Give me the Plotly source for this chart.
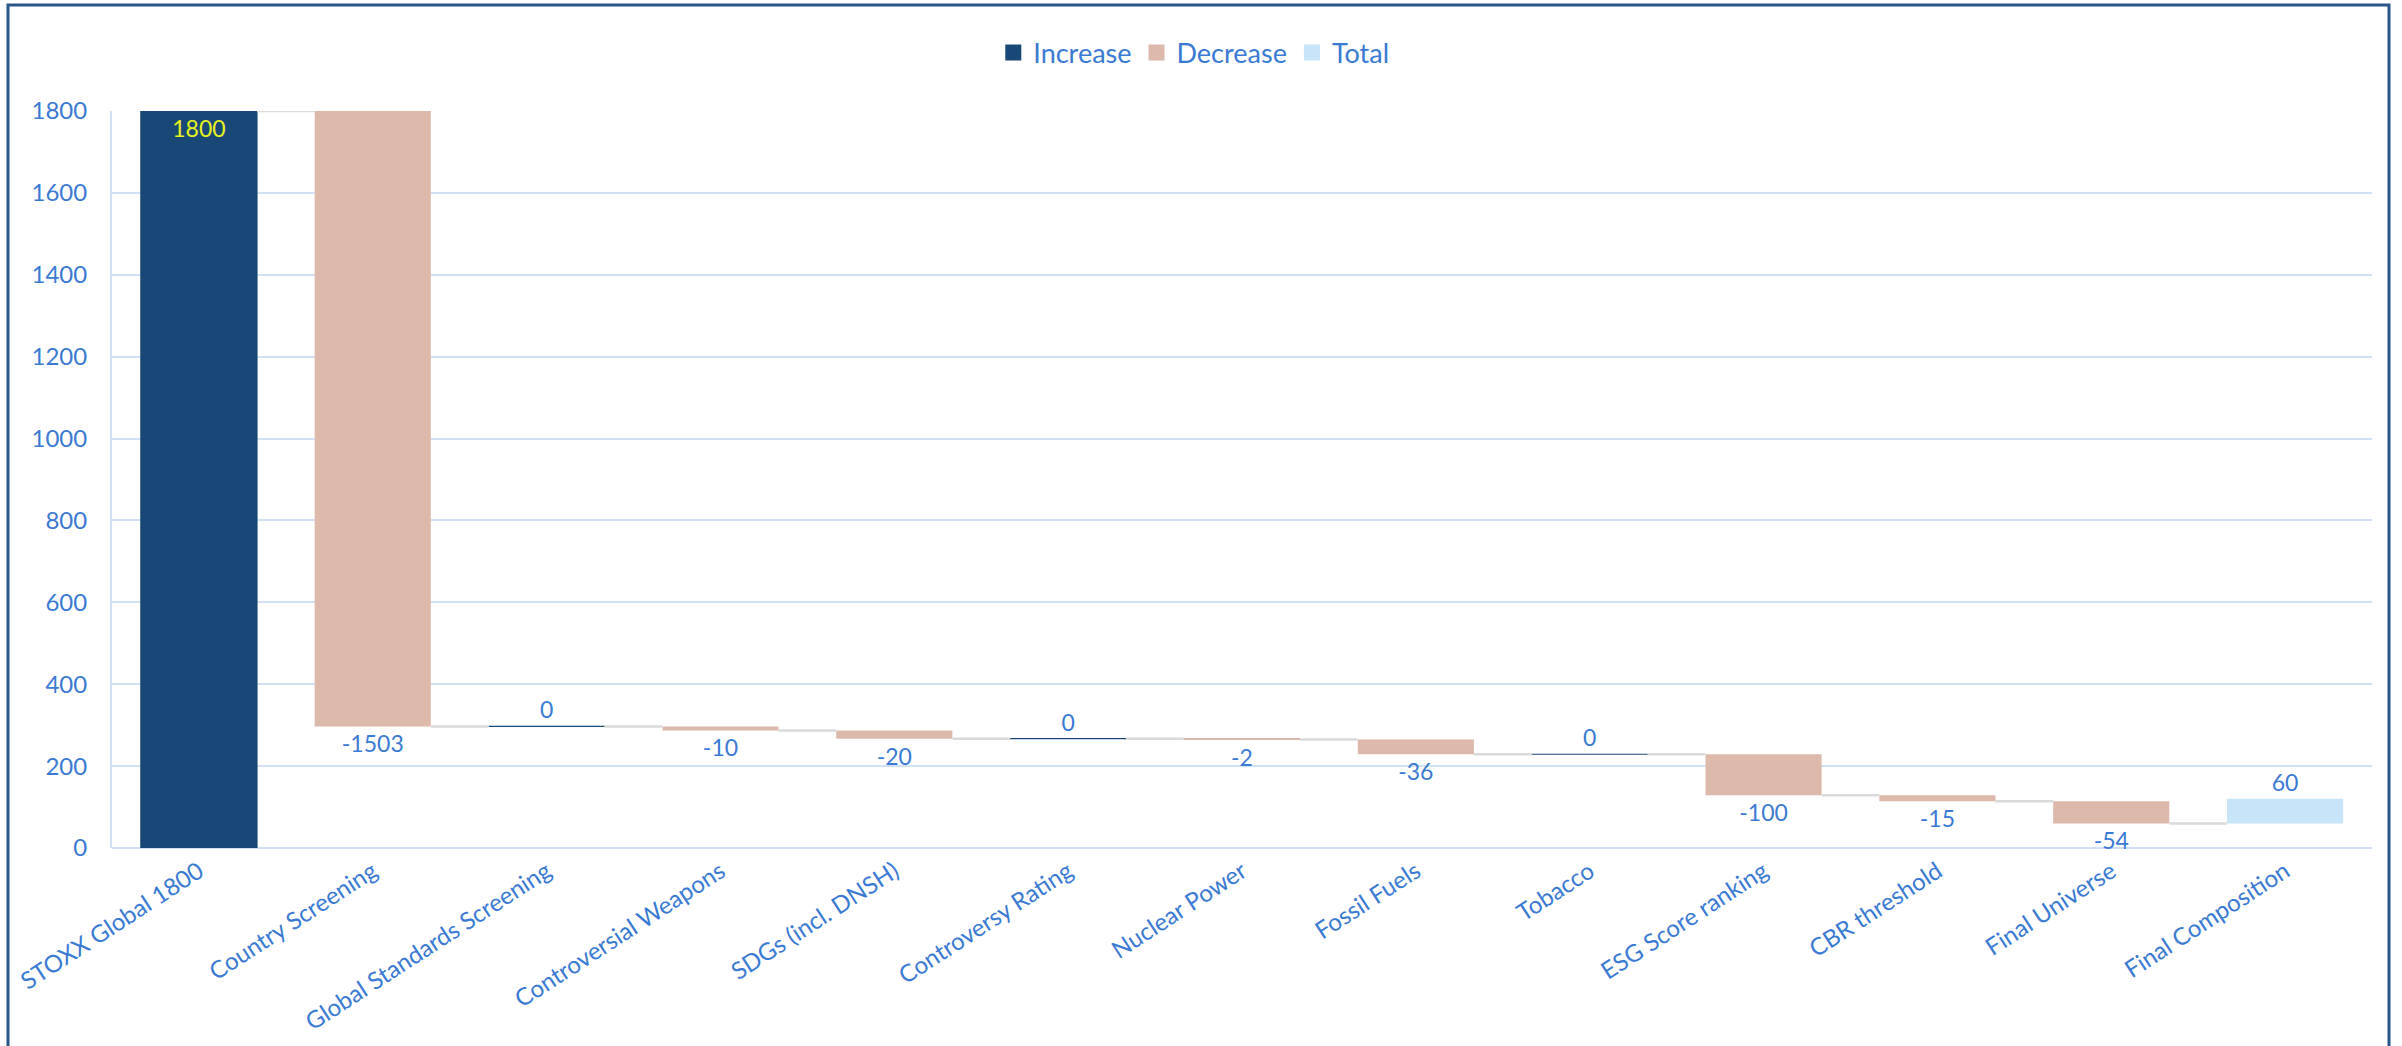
import plotly.graph_objects as go

categories = ["STOXX Global 1800", "Country Screening", "Global Standards Screening",
              "Controversial Weapons", "SDGs (incl. DNSH)", "Controversy Rating",
              "Nuclear Power", "Fossil Fuels", "Tobacco", "ESG Score ranking",
              "CBR threshold", "Final Universe", "Final Composition"]
values = [1800, -1503, 0, -10, -20, 0, -2, -36, 0, -100, -15, -54, 60]
kinds = ["Increase", "Decrease", "Increase", "Decrease", "Decrease", "Increase",
         "Decrease", "Decrease", "Increase", "Decrease", "Decrease", "Decrease", "Total"]
y_ticks = [0, 200, 400, 600, 800, 1000, 1200, 1400, 1600, 1800]

colors = {"Increase": "#1a4876", "Decrease": "#dcb9aa", "Total": "#c7e4f8"}
text_color = "#3a7ad2"
grid_color = "#d0e1f6"
font_family = "Century Gothic, Futura, Lato, sans-serif"
bar_w = 0.668

# running totals
bases, ends = [], []
run = 0
for v, k in zip(values, kinds):
    bases.append(run)
    run = run + v
    ends.append(run)

fig = go.Figure()
for kind in ["Increase", "Decrease", "Total"]:
    idx = [i for i, k in enumerate(kinds) if k == kind]
    tpos = ["inside" if (kind == "Increase" and i == 0) else "outside" for i in idx]
    tcol = ["#e6f21e" if (kind == "Increase" and i == 0) else text_color for i in idx]
    fig.add_trace(go.Bar(
        x=idx, y=[values[i] for i in idx], base=[bases[i] for i in idx],
        name=kind, width=bar_w, legendgroup=kind, showlegend=False,
        marker=dict(color=colors[kind],
                    line=dict(color=colors[kind], width=1.2 if kind == "Increase" else 0)),
        text=[str(values[i]) for i in idx], textposition=tpos,
        insidetextanchor="end", constraintext="none", textangle=0,
        textfont=dict(color=tcol, size=23, family=font_family),
        outsidetextfont=dict(color=text_color, size=23, family=font_family),
        cliponaxis=False, hoverinfo="x+y",
    ))
    # legend entry (square swatch)
    fig.add_trace(go.Scatter(
        x=[None], y=[None], mode="markers", name=kind, legendgroup=kind,
        marker=dict(symbol="square", size=18, color=colors[kind]),
        hoverinfo="skip",
    ))

# connectors
cx, cy = [], []
for i in range(len(values) - 1):
    cx += [i + bar_w / 2, i + 1 - bar_w / 2, None]
    cy += [ends[i], ends[i], None]
fig.add_trace(go.Scatter(x=cx, y=cy, mode="lines", line=dict(color="#dadada", width=2.5),
                         showlegend=False, hoverinfo="skip"))

L, R, T, B = 112, 30, 111, 198
W, H = 2402, 1046
pw, ph = W - L - R, H - T - B

fig.update_layout(
    width=W, height=H,
    margin=dict(l=L, r=R, t=T, b=B, autoexpand=False),
    paper_bgcolor="white", plot_bgcolor="white",
    font=dict(family=font_family, color=text_color, size=23),
    barmode="overlay",
    legend=dict(orientation="h", x=0.497, xanchor="center", xref="container",
                y=1 - 53 / H, yanchor="middle", yref="container",
                font=dict(size=27, color=text_color), traceorder="normal",
                itemwidth=30, tracegroupgap=0),
    xaxis=dict(tickmode="array", tickvals=list(range(len(categories))), ticktext=categories,
               range=[-0.5, len(categories) - 0.5], tickangle=-33,
               tickfont=dict(size=24, color=text_color),
               showgrid=False, zeroline=False, showline=False, ticks="",
               ticklabelstandoff=4),
    yaxis=dict(range=[0, 1800], tickvals=y_ticks, showgrid=True, gridcolor=grid_color,
               gridwidth=2, zeroline=True, zerolinecolor=grid_color, zerolinewidth=2,
               showline=True, linecolor=grid_color, linewidth=2, ticks="",
               ticklabelstandoff=18, tickfont=dict(size=24, color=text_color)),
    shapes=[dict(type="rect", xref="paper", yref="paper",
                 x0=(8 - L) / pw, x1=(2389 - L) / pw,
                 y0=(H - B - 1070) / ph, y1=(H - B - 5) / ph,
                 line=dict(color="#2b5689", width=3), layer="below")],
)

fig.write_html("out.html", config={"displayModeBar": False},
               post_script="document.body.style.margin='0';document.body.style.overflow='hidden';")
